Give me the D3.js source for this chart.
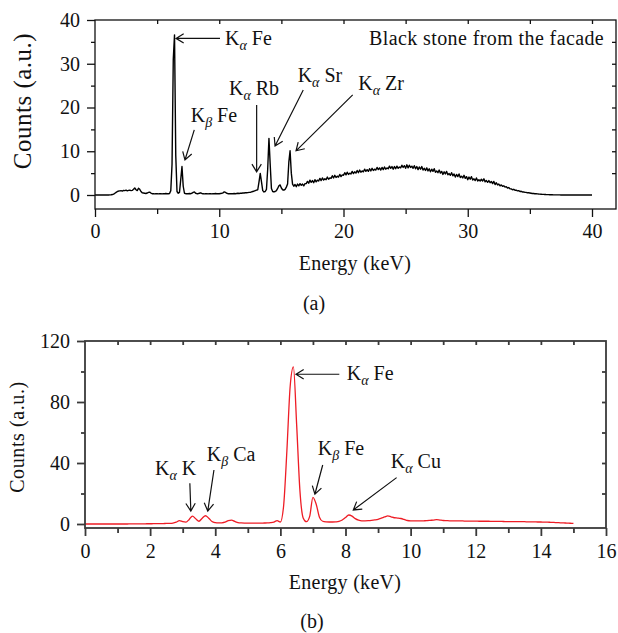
<!DOCTYPE html>
<html>
<head>
<meta charset="utf-8">
<script src="https://cdn.jsdelivr.net/npm/d3@7"></script>
<style>
  body { margin: 0; background: #fff; }
  text { font-family: "Liberation Serif", "Times New Roman", serif; fill: #111; }
</style>
</head>
<body>
<svg id="fig" width="618" height="633"></svg>
<script>
// ---- Panel (a): black stone from the facade, 0–40 keV, 0.1 keV per channel ----
const stoneStep = 0.1;
const stoneCounts = [
  0,0,0,0,0,0,0,0,0,0,
  0,0,0.02,0.05,0.1,0.2,0.4,0.6,0.8,0.9,
  0.95,1.0,0.9,1.05,1.0,1.1,0.95,1.05,1.1,1.0,
  1.05,1.3,1.6,1.2,1.0,1.55,1.3,0.8,0.5,0.45,
  0.4,0.35,0.45,0.6,0.65,0.45,0.3,0.3,0.25,0.3,
  0.3,0.25,0.3,0.3,0.25,0.3,0.3,0.35,0.3,0.3,
  0.35,1.0,7,31,36.6,9,0.8,0.4,0.6,3.5,
  6.5,2.0,0.4,0.3,0.3,0.3,0.35,0.3,0.4,0.6,
  0.7,0.4,0.3,0.3,0.4,0.5,0.35,0.3,0.25,0.3,
  0.3,0.25,0.3,0.3,0.25,0.3,0.3,0.35,0.3,0.3,
  0.3,0.35,0.4,0.5,0.7,0.6,0.4,0.3,0.3,0.3,
  0.3,0.3,0.35,0.3,0.35,0.4,0.35,0.4,0.4,0.45,
  0.45,0.5,0.5,0.55,0.6,0.6,0.7,0.8,0.9,1.0,
  1.1,1.2,3.0,4.95,3.0,1.0,0.7,0.8,1.3,6.0,
  12.95,7.0,1.5,0.8,0.7,0.8,1.0,1.5,2.1,2.3,
  1.6,1.2,1.1,1.3,1.8,2.5,7.5,10.1,5.0,2.5,
  2.0,2.4,1.9,2.5,2.1,2.6,2.2,2.5,2.1,2.6,
  2.6,3.1,2.7,3.4,2.9,3.3,2.8,3.5,3.0,3.4,
  3.2,3.8,3.3,3.9,3.4,3.7,3.5,4.1,3.6,3.9,
  3.8,4.4,3.9,4.5,4.0,4.3,4.1,4.7,4.2,4.6,
  4.5,5.1,4.6,5.2,4.7,5.0,4.8,5.4,4.9,5.3,
  5.0,5.6,5.1,5.7,5.2,5.5,5.3,5.9,5.4,5.8,
  5.4,6.0,5.5,6.1,5.6,5.9,5.7,6.3,5.8,6.2,
  5.7,6.3,5.8,6.4,5.9,6.2,6.0,6.6,6.1,6.5,
  5.9,6.5,6.0,6.6,6.1,6.4,6.2,6.8,6.3,6.7,
  6.1,6.9,6.2,6.8,6.3,6.6,6.1,6.7,6.0,6.5,
  5.8,6.4,5.9,6.5,5.7,6.1,5.6,6.2,5.5,6.0,
  5.3,5.9,5.4,6.0,5.2,5.5,5.1,5.7,5.0,5.4,
  4.7,5.3,4.8,5.4,4.6,4.9,4.5,5.1,4.4,4.8,
  4.1,4.7,4.2,4.8,4.0,4.3,3.9,4.5,3.8,4.2,
  3.5,4.1,3.6,4.2,3.4,3.7,3.3,3.9,3.2,3.5,
  3.2,3.6,3.2,3.7,3.0,3.3,2.9,3.3,2.8,3.1,
  2.6,3.1,2.4,2.8,2.3,2.5,2.1,2.3,2.0,2.1,
  1.8,1.9,1.6,1.7,1.4,1.4,1.2,1.3,1.1,1.1,
  0.95,1.0,0.8,0.85,0.7,0.7,0.6,0.6,0.5,0.5,
  0.45,0.4,0.35,0.35,0.3,0.28,0.25,0.22,0.2,0.18,
  0.15,0.14,0.12,0.1,0.09,0.08,0.06,0.05,0.05,0.04,
  0.03,0.03,0.02,0.02,0.02,0.01,0.01,0.01,0.01,0.01,
  0,0,0,0,0,0,0,0,0,0,
  0,0,0,0,0,0,0,0,0,0,
  0
];
const stoneXTicks = [0, 10, 20, 30, 40];
const stoneXMinor = [5, 15, 25, 35];
const stoneYTicks = [0, 10, 20, 30, 40];
const stoneYMinor = [5, 15, 25, 35];

// peak labels for (a): line, element, arrow tip, arrow tail, label anchor (keV, counts)
const stoneLines    = ["α", "β", "α", "α", "α"];
const stoneElements = ["Fe", "Fe", "Rb", "Sr", "Zr"];
const stoneTips     = [[6.52, 35.8], [7.24, 8.0], [13.01, 5.3], [14.49, 11.2], [16.18, 10.1]];
const stoneTails    = [[10.06, 35.8], [7.99, 14.9], [13.01, 20.6], [16.76, 24.0], [20.74, 22.9]];
const stoneAnchors  = [[10.46, 34.3], [7.70, 16.75], [10.78, 22.9], [16.31, 25.9], [21.19, 24.0]];

// ---- Panel (b): 0–15 keV, 0.1 keV per channel ----
const redStep = 0.1;
const redCounts = [
  0,0,0,0,0,0,0,0,0,0,
  0,0,0,0,0.05,0.05,0.1,0.1,0.1,0.15,
  0.15,0.2,0.2,0.25,0.3,0.35,0.4,0.6,1.2,2.2,
  1.5,1.2,3.0,5.2,3.4,1.8,3.8,5.4,3.8,1.6,
  0.9,0.7,0.8,1.2,2.2,2.6,1.7,0.9,0.7,0.6,
  0.6,0.6,0.55,0.6,0.6,0.65,0.7,0.9,1.3,2.2,
  1.3,12,48,90,103,65,22,4,1.5,5,
  17.5,13,4.5,1.8,1.4,1.3,1.3,1.4,1.7,2.6,
  4.2,5.9,5.2,3.5,2.5,2.1,2.1,2.2,2.4,2.7,
  3.1,3.8,4.6,5.3,4.7,4.1,3.9,3.6,3.0,2.3,
  2.1,2.1,2.0,2.0,2.1,2.2,2.4,2.6,2.9,2.6,
  2.3,2.2,2.1,2.1,2.0,2.0,2.0,1.9,1.9,1.9,
  1.9,1.8,1.8,1.8,1.8,1.7,1.7,1.7,1.7,1.6,
  1.6,1.6,1.6,1.5,1.5,1.5,1.4,1.4,1.4,1.3,
  1.3,1.2,1.2,1.1,1.0,0.9,0.8,0.7,0.6,0.5,
  0.4
];
const redXTicks = [0, 2, 4, 6, 8, 10, 12, 14, 16];
const redXMinor = [1, 3, 5, 7, 9, 11, 13, 15];
const redYTicks = [0, 40, 80, 120];
const redYMinor = [20, 60, 100];

const redLines    = ["α", "β", "β", "α", "α"];
const redElements = ["Fe", "Fe", "Ca", "K", "Cu"];
const redTips     = [[6.48, 98.2], [7.06, 19.5], [3.77, 8.5], [3.25, 8.5], [8.24, 9.2]];
const redTails    = [[7.81, 98.2], [7.30, 38.7], [3.96, 35.4], [3.22, 26.7], [9.57, 30.4]];
const redAnchors  = [[8.04, 94.4], [7.15, 45.2], [3.74, 41.3], [2.15, 32.1], [9.39, 36.5]];

const svg = d3.select("#fig");

// open arrow: shaft from tail to tip, two short barbs at the tip
function arrow(g, x1, y1, x2, y2, color) {
  const a = Math.atan2(y2 - y1, x2 - x1), L = 9, w = 0.55;
  const p = d3.path();
  p.moveTo(x1, y1); p.lineTo(x2, y2);
  p.moveTo(x2 - L * Math.cos(a - w), y2 - L * Math.sin(a - w));
  p.lineTo(x2, y2);
  p.lineTo(x2 - L * Math.cos(a + w), y2 - L * Math.sin(a + w));
  g.append("path").attr("d", p.toString()).attr("fill", "none")
    .attr("stroke", color).attr("stroke-width", 1.2);
}

// "K" with italic Greek subscript, then the element
function peakLabel(g, x, y, line, element) {
  const t = g.append("text").attr("x", x).attr("y", y).attr("font-size", 20);
  t.append("tspan").text("K");
  t.append("tspan").attr("font-size", 14).attr("font-style", "italic").attr("dy", 5).text(line);
  t.append("tspan").attr("dy", -5).text("\u00a0" + element);
}

function panel(o) {
  const g = svg.append("g");
  const x = o.x, y = o.y;
  const [left, right] = [x.range()[0], o.frameRight];
  const [top, bottom] = [y.range()[1], o.frameBottom];

  const styleAxis = sel => {
    sel.select(".domain").remove();
    sel.selectAll("line").attr("stroke", o.frameColor).attr("stroke-width", o.frameWidth);
    sel.selectAll("text").attr("font-size", 20).attr("font-family", "Liberation Serif, serif").attr("fill", "#111");
  };

  // outward major/minor ticks on bottom and left
  g.append("g").attr("transform", `translate(0,${bottom})`)
    .call(d3.axisBottom(x).tickValues(o.xTicks).tickSize(8).tickSizeOuter(0).tickPadding(o.xPad))
    .call(styleAxis);
  g.append("g").attr("transform", `translate(0,${bottom})`)
    .call(d3.axisBottom(x).tickValues(o.xMinor).tickSize(5).tickSizeOuter(0).tickFormat(""))
    .call(styleAxis);
  g.append("g").attr("transform", `translate(${left},0)`)
    .call(d3.axisLeft(y).tickValues(o.yTicks).tickSize(8).tickSizeOuter(0).tickPadding(7))
    .call(styleAxis);
  g.append("g").attr("transform", `translate(${left},0)`)
    .call(d3.axisLeft(y).tickValues(o.yMinor).tickSize(4).tickSizeOuter(0).tickFormat(""))
    .call(styleAxis);
  // inward ticks along top and right
  g.append("g").attr("transform", `translate(0,${top})`)
    .call(d3.axisTop(x).tickValues(o.topTicks).tickSize(-4).tickSizeOuter(0).tickFormat(""))
    .call(styleAxis);
  g.append("g").attr("transform", `translate(${right},0)`)
    .call(d3.axisRight(y).tickValues(o.rightTicks).tickSize(-4).tickSizeOuter(0).tickFormat(""))
    .call(styleAxis);

  // spectrum
  const line = d3.line()
    .x((d, i) => x(i * o.step))
    .y(d => y(d))
    .curve(o.curve);
  g.append("path").datum(o.counts)
    .attr("d", line).attr("fill", "none")
    .attr("stroke", o.lineColor).attr("stroke-width", o.lineWidth)
    .attr("stroke-linejoin", "round");

  // frame
  g.append("rect").attr("x", left).attr("y", top)
    .attr("width", right - left).attr("height", bottom - top)
    .attr("fill", "none").attr("stroke", o.frameColor).attr("stroke-width", o.frameWidth);

  // peak annotations
  o.lines.forEach((ln, i) => {
    arrow(g, x(o.tails[i][0]), y(o.tails[i][1]), x(o.tips[i][0]), y(o.tips[i][1]), "#111");
    peakLabel(g, x(o.anchors[i][0]), y(o.anchors[i][1]), ln, o.elements[i]);
  });

  // axis titles and panel tag
  g.append("text").attr("x", o.xTitle[0]).attr("y", o.xTitle[1])
    .attr("text-anchor", "middle").attr("font-size", 20).attr("letter-spacing", 0.3)
    .text("Energy (keV)");
  g.append("text")
    .attr("transform", `translate(${o.yTitle[0]},${o.yTitle[1]}) rotate(-90)`)
    .attr("text-anchor", "middle").attr("font-size", o.yTitleSize)
    .attr("letter-spacing", o.yTitleSpacing).text("Counts (a.u.)");
  g.append("text").attr("x", o.tag[0]).attr("y", o.tag[1])
    .attr("text-anchor", "middle").attr("font-size", 20).text(o.tagText);
  return g;
}

const xA = d3.scaleLinear().domain([0, 40]).range([95, 592]);
const yA = d3.scaleLinear().domain([0, 40]).range([195, 20]);
const gA = panel({
  x: xA, y: yA, frameRight: 616, frameBottom: 209, xPad: 7,
  frameColor: "#111", frameWidth: 1.3,
  xTicks: stoneXTicks, xMinor: stoneXMinor, yTicks: stoneYTicks, yMinor: stoneYMinor,
  topTicks: stoneXMinor.concat(stoneXTicks.slice(1)),
  rightTicks: stoneYMinor.concat(stoneYTicks.slice(1, -1)),
  counts: stoneCounts, step: stoneStep, curve: d3.curveLinear,
  lineColor: "#000", lineWidth: 1.4,
  lines: stoneLines, elements: stoneElements, tips: stoneTips, tails: stoneTails, anchors: stoneAnchors,
  xTitle: [355, 270], yTitle: [31, 101], yTitleSize: 25, yTitleSpacing: 0.5,
  tag: [314, 310], tagText: "(a)"
});
gA.append("text").attr("x", 369).attr("y", 45).attr("font-size", 20)
  .attr("letter-spacing", 0.4).text("Black stone from the facade");

const xB = d3.scaleLinear().domain([0, 16]).range([85, 606]);
const yB = d3.scaleLinear().domain([0, 120]).range([524, 341]);
panel({
  x: xB, y: yB, frameRight: 606, frameBottom: 528, xPad: 8,
  frameColor: "#3a3a3a", frameWidth: 1.8,
  xTicks: redXTicks, xMinor: redXMinor, yTicks: redYTicks, yMinor: redYMinor,
  topTicks: redXMinor.concat(redXTicks.slice(1, -1)),
  rightTicks: redYMinor.concat(redYTicks.slice(1, -1)),
  counts: redCounts, step: redStep, curve: d3.curveMonotoneX,
  lineColor: "#ee1c25", lineWidth: 1.3,
  lines: redLines, elements: redElements, tips: redTips, tails: redTails, anchors: redAnchors,
  xTitle: [345, 589], yTitle: [24, 437], yTitleSize: 20, yTitleSpacing: 0.6,
  tag: [312, 628], tagText: "(b)"
});
</script>
</body>
</html>
